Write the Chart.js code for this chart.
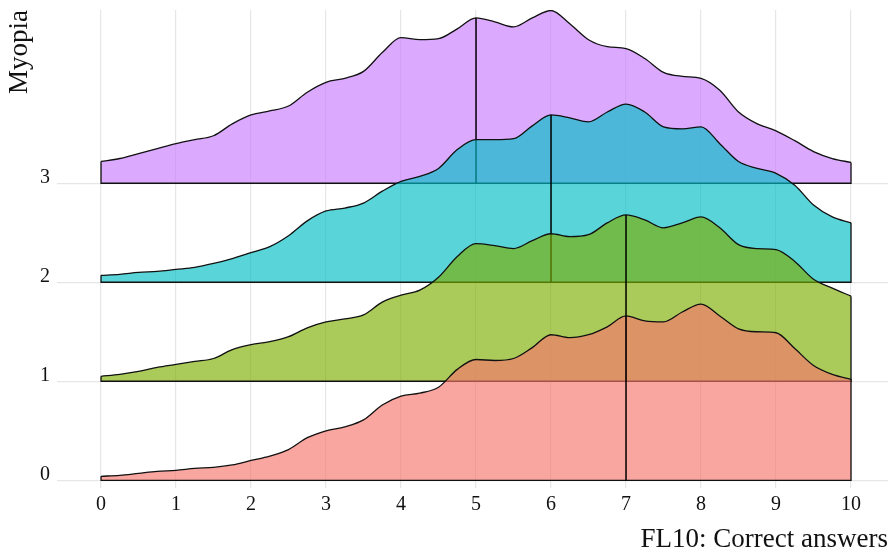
<!DOCTYPE html>
<html>
<head>
<meta charset="utf-8">
<script src="https://cdn.jsdelivr.net/npm/chart.js@4.4.0/dist/chart.umd.min.js"></script>
<style>
  html, body { margin: 0; padding: 0; background: #fff; }
  #wrap { width: 888px; height: 556px; }
</style>
</head>
<body>
<div id="wrap"><canvas id="ridgeChart"></canvas></div>
<script>
// FL10 correct answers (x positions of the density estimate)
const answers = [0, 0.25, 0.5, 0.75, 1, 1.25, 1.5, 1.75, 2, 2.25, 2.5, 2.75, 3, 3.25, 3.5, 3.75,
  4, 4.25, 4.5, 4.75, 5, 5.25, 5.5, 5.75, 6, 6.25, 6.5, 6.75, 7, 7.25, 7.5, 7.75,
  8, 8.25, 8.5, 8.75, 9, 9.25, 9.5, 9.75, 10];

// ridge heights above each Myopia baseline
const myopia0 = [0.04, 0.05, 0.07, 0.09, 0.10, 0.12, 0.13, 0.155, 0.20, 0.245, 0.31, 0.43, 0.50, 0.54, 0.61, 0.76,
  0.85, 0.88, 0.94, 1.12, 1.22, 1.21, 1.23, 1.34, 1.47, 1.44, 1.47, 1.55, 1.66, 1.61, 1.60, 1.70,
  1.78, 1.66, 1.53, 1.50, 1.49, 1.33, 1.16, 1.07, 1.02];
const myopia1 = [0.05, 0.07, 0.10, 0.14, 0.17, 0.20, 0.23, 0.32, 0.37, 0.40, 0.45, 0.54, 0.60, 0.63, 0.67, 0.80,
  0.87, 0.92, 1.05, 1.26, 1.39, 1.37, 1.34, 1.42, 1.49, 1.46, 1.48, 1.60, 1.68, 1.63, 1.55, 1.60,
  1.66, 1.55, 1.38, 1.34, 1.33, 1.21, 1.03, 0.94, 0.86];
const myopia2 = [0.07, 0.08, 0.10, 0.11, 0.13, 0.15, 0.19, 0.24, 0.30, 0.36, 0.47, 0.62, 0.72, 0.75, 0.80, 0.92,
  1.02, 1.07, 1.15, 1.34, 1.44, 1.44, 1.45, 1.58, 1.69, 1.66, 1.62, 1.72, 1.80, 1.72, 1.57, 1.55,
  1.57, 1.40, 1.22, 1.15, 1.10, 0.98, 0.78, 0.66, 0.60];
const myopia3 = [0.22, 0.25, 0.30, 0.35, 0.40, 0.44, 0.48, 0.60, 0.69, 0.73, 0.78, 0.92, 1.02, 1.06, 1.13, 1.32,
  1.47, 1.45, 1.46, 1.56, 1.67, 1.63, 1.58, 1.67, 1.745, 1.61, 1.45, 1.38, 1.36, 1.26, 1.12, 1.08,
  1.06, 0.94, 0.72, 0.60, 0.53, 0.43, 0.32, 0.25, 0.21];

const myopiaGroups = [0, 1, 2, 3];
const medians = [7, 7, 6, 5];
const xTickLabels = [0, 1, 2, 3, 4, 5, 6, 7, 8, 9, 10];
const yTickLabels = [0, 1, 2, 3];

const ridgeColors = [
  "rgba(248, 118, 109, 0.65)",
  "rgba(124, 174, 0, 0.65)",
  "rgba(0, 191, 196, 0.65)",
  "rgba(199, 124, 255, 0.65)",
];
const serif = "'Liberation Serif', 'Times New Roman', serif";

// one ridge = filled top curve + outline of sides/baseline + median line
function ridge(g, heights) {
  const top = answers.map((x, i) => ({ x: x, y: g + heights[i] }));
  const last = answers.length - 1;
  const mid = answers.indexOf(medians[g]);
  return [
    {
      data: top,
      fill: { value: g },
      backgroundColor: ridgeColors[g],
      borderColor: "#111",
      borderWidth: 1.3,
      cubicInterpolationMode: "monotone",
      order: g * 10 + 2,
    },
    {
      data: [
        { x: answers[0], y: top[0].y },
        { x: answers[0], y: g },
        { x: answers[last], y: g },
        { x: answers[last], y: top[last].y },
      ],
      fill: false,
      borderColor: "#111",
      borderWidth: 1.3,
      order: g * 10 + 1,
    },
    {
      data: [
        { x: medians[g], y: g },
        { x: medians[g], y: top[mid].y },
      ],
      fill: false,
      borderColor: "#000",
      borderWidth: 1.5,
      order: g * 10,
    },
  ];
}

const series = [myopia0, myopia1, myopia2, myopia3];
const datasets = [];
myopiaGroups.forEach((g) => datasets.push(...ridge(g, series[g])));

new Chart(document.getElementById("ridgeChart"), {
  type: "line",
  data: { datasets: datasets },
  options: {
    responsive: true,
    maintainAspectRatio: false,
    animation: false,
    layout: { padding: { top: 10, right: 0, left: 0, bottom: 0 } },
    elements: { point: { radius: 0, hoverRadius: 0 }, line: { tension: 0 } },
    plugins: { legend: { display: false }, tooltip: { enabled: false } },
    scales: {
      x: {
        type: "linear",
        min: -0.587,
        max: 10.493,
        afterBuildTicks: (s) => {
          s.ticks = xTickLabels.map((v) => ({ value: v }));
        },
        afterFit: (s) => {
          s.height = 68;
          s.paddingLeft = 0;
          s.paddingRight = 0;
        },
        grid: { color: "#e6e6e6", lineWidth: 1.2, drawTicks: false },
        border: { display: false },
        ticks: {
          color: "#111",
          font: { family: serif, size: 20 },
          padding: 5,
          maxRotation: 0,
          autoSkip: false,
        },
        title: {
          display: true,
          text: "FL10: Correct answers",
          align: "end",
          color: "#111",
          font: { family: serif, size: 27 },
          padding: { top: 0, bottom: 0 },
        },
      },
      y: {
        type: "linear",
        min: -0.078,
        max: 4.75,
        afterBuildTicks: (s) => {
          s.ticks = yTickLabels.map((v) => ({ value: v }));
        },
        afterFit: (s) => {
          s.width = 57;
          s.paddingTop = 0;
          s.paddingBottom = 0;
        },
        grid: { color: "#e6e6e6", lineWidth: 1.2, drawTicks: false },
        border: { display: false },
        ticks: {
          color: "#111",
          font: { family: serif, size: 20 },
          padding: 7,
          labelOffset: -6,
        },
        title: {
          display: true,
          text: "Myopia",
          align: "end",
          color: "#111",
          font: { family: serif, size: 27 },
          padding: { top: 4, bottom: 0 },
        },
      },
    },
  },
});
</script>
</body>
</html>
